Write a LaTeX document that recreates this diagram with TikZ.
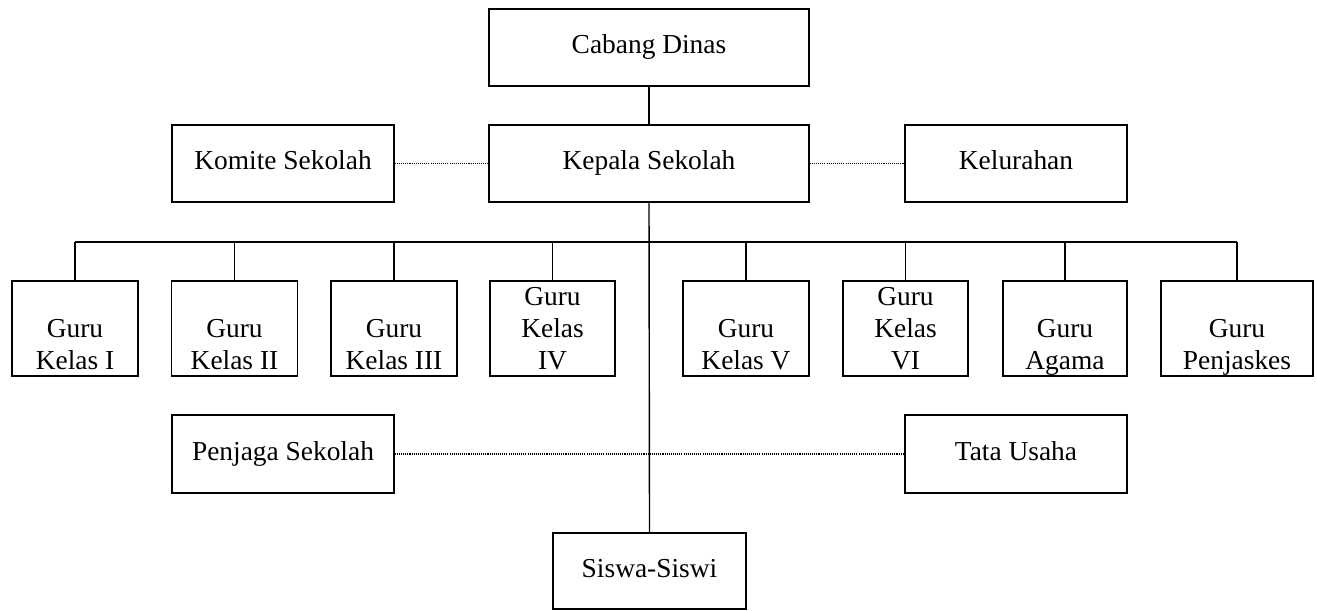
\documentclass[tikz,border=0pt]{standalone}
\usepackage{fontspec}
\setmainfont{Liberation Serif}
\usetikzlibrary{positioning}

\begin{document}
\begin{tikzpicture}[
		x=0.02cm, y=-0.02cm,
		line width=0.8pt,
		every node/.style={
			font=\fontsize{15.6}{18.2}\selectfont,
			align=center
		},
		box/.style={
			draw,
			inner sep=0pt,
			minimum width=#1
		},
		box/.default=2.52cm,
		onerow/.style={
			text height=1.5ex,
			text depth=0pt
		},
		dotline/.style={
			line width=0.6pt,
			dash pattern=on 0.6pt off 0.6pt
		}
		]
		
		\useasboundingbox (0,0) rectangle (1317,611);
		
		%--------------------------------------------------
		% Top levels
		%--------------------------------------------------
		
		\node[box=6.4cm, onerow, minimum height=1.54cm] (cabang) at (649,47.5) {Cabang Dinas};
		\node[box=6.4cm, onerow, minimum height=1.54cm] (kepala) at (649,163.5) {Kepala Sekolah};
		\node[box=4.44cm, onerow, minimum height=1.54cm] (komite) at (283,163.5) {Komite Sekolah};
		\node[box=4.44cm, onerow, minimum height=1.54cm] (lurah) at (1016,163.5) {Kelurahan};
		
		%--------------------------------------------------
		% Guru row
		%--------------------------------------------------
		
		\coordinate (bus) at (0,242);
		
		\node[box, minimum height=1.9cm] (g1) at (75,328.5) {\vphantom{Guru}\\Guru\\Kelas I};
		\node[box, minimum height=1.9cm] (g2) at (234.5,328.5) {\vphantom{Guru}\\Guru\\Kelas II};
		\node[box, minimum height=1.9cm] (g3) at (394,328.5) {\vphantom{Guru}\\Guru\\Kelas III};
		\node[box=2.5cm, minimum height=1.9cm] (g4) at (552.5,328.5) {Guru\\Kelas\\IV};
		\node[box, minimum height=1.9cm] (g5) at (746,328.5) {\vphantom{Guru}\\Guru\\Kelas V};
		\node[box=2.5cm, minimum height=1.9cm] (g6) at (905.5,328.5) {Guru\\Kelas\\VI};
		\node[box=2.48cm, minimum height=1.9cm] (g7) at (1065,328.5) {\vphantom{Guru}\\Guru\\\raisebox{0pt}[\height][0pt]{Agama}};
		\node[box=3.04cm, minimum height=1.9cm] (g8) at (1237,328.5) {\vphantom{Guru}\\Guru\\\raisebox{0pt}[\height][0pt]{Penjaskes}};
		
		%--------------------------------------------------
		% Bottom levels
		%--------------------------------------------------
		
		\node[box=4.44cm, onerow, minimum height=1.56cm] (penjaga) at (283,454) {Penjaga Sekolah};
		\node[box=4.44cm, onerow, minimum height=1.56cm] (tu) at (1016,454) {Tata Usaha};
		\node[box=3.86cm, onerow, minimum height=1.52cm] (siswa) at (649.5,571) {Siswa-Siswi};
		
		%--------------------------------------------------
		% Lines
		%--------------------------------------------------
		
		\draw (cabang.south) -- (kepala.north);
		\draw (kepala.south) -- (siswa.north);
		\draw (g1.north |- bus) -- (g8.north |- bus);
		
		\foreach \g in {g1,g2,g3,g4,g5,g6,g7,g8}
		{
			\draw (\g.north |- bus) -- (\g.north);
		}
		
		\draw[dotline] (komite.east) -- (kepala.west);
		\draw[dotline] (kepala.east) -- (lurah.west);
		\draw[dotline] (penjaga.east) -- (tu.west);
		
	\end{tikzpicture}
\end{document}
